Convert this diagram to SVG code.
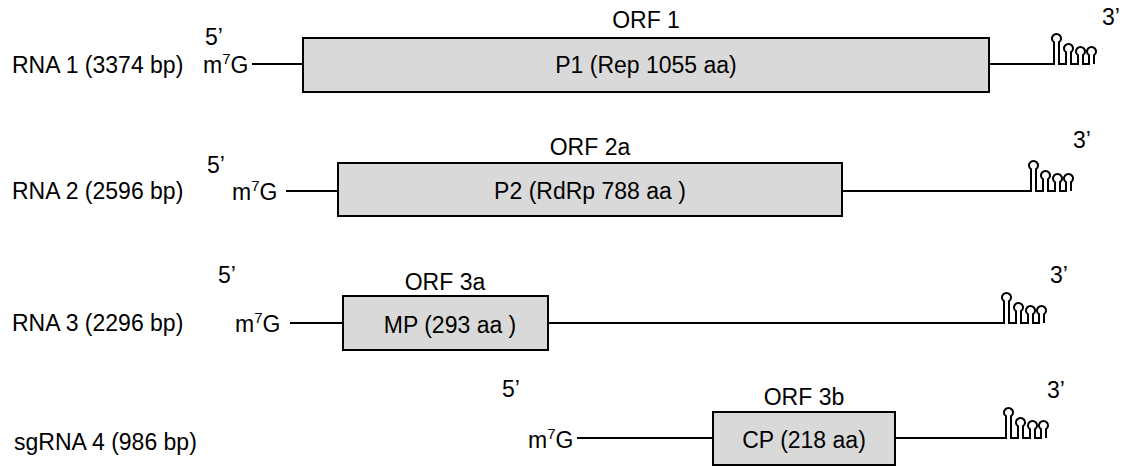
<svg xmlns="http://www.w3.org/2000/svg" width="1131" height="466" viewBox="0 0 1131 466">
<style>
text{font-family:"Liberation Sans",Arial,sans-serif;font-size:23px;fill:#000}
.mid{text-anchor:middle}
.sup{font-size:15px}
.box{fill:#d9d9d9;stroke:#000;stroke-width:2}
.ln{fill:none;stroke:#000;stroke-width:2}
</style>
<defs>
<path id="sl" class="ln" d="M0,0 V-21.8 A4.5,4.5 0 1 1 5,-21.8 V0 H12 V-11.8 A4.5,4.5 0 1 1 17,-11.8 V0 H24 V-8.8 A4.5,4.5 0 1 1 29,-8.8 V0 H35 V-8.8 A4.5,4.5 0 1 1 40,-8.8 V0"/>
</defs>
<g id="connectors">
<line class="ln" x1="252" y1="64" x2="303" y2="64"/>
<line class="ln" x1="989" y1="64" x2="1055" y2="64"/>
<line class="ln" x1="286" y1="191" x2="338" y2="191"/>
<line class="ln" x1="842" y1="191" x2="1032" y2="191"/>
<line class="ln" x1="290" y1="323" x2="343" y2="323"/>
<line class="ln" x1="548" y1="323" x2="1005" y2="323"/>
<line class="ln" x1="577" y1="438" x2="713" y2="438"/>
<line class="ln" x1="895" y1="438" x2="1007" y2="438"/>
</g>
<g id="rna1">
<text x="12" y="73">RNA 1 (3374 bp)</text>
<text x="205" y="45">5’</text>
<text x="203" y="73">m<tspan class="sup" dy="-9">7</tspan><tspan dy="9">G</tspan></text>
<rect class="box" x="303" y="38" width="686" height="54"/>
<text class="mid" x="646" y="28">ORF 1</text>
<text class="mid" x="646" y="73">P1 (Rep 1055 aa)</text>
<use href="#sl" x="1054" y="64"/>
<text x="1102" y="25">3’</text>
</g>
<g id="rna2">
<text x="12" y="199">RNA 2 (2596 bp)</text>
<text x="207" y="173">5’</text>
<text x="232" y="200">m<tspan class="sup" dy="-9">7</tspan><tspan dy="9">G</tspan></text>
<rect class="box" x="338" y="163" width="504" height="53"/>
<text class="mid" x="590" y="155">ORF 2a</text>
<text class="mid" x="590" y="199">P2 (RdRp 788 aa )</text>
<use href="#sl" x="1031" y="191"/>
<text x="1073" y="148">3’</text>
</g>
<g id="rna3">
<text x="12" y="331">RNA 3 (2296 bp)</text>
<text x="218" y="283">5’</text>
<text x="235" y="332">m<tspan class="sup" dy="-9">7</tspan><tspan dy="9">G</tspan></text>
<rect class="box" x="343" y="296" width="205" height="54"/>
<text class="mid" x="445" y="290">ORF 3a</text>
<text class="mid" x="450" y="333">MP (293 aa )</text>
<use href="#sl" x="1004" y="323"/>
<text x="1050" y="283">3’</text>
</g>
<g id="sgrna4">
<text x="14" y="450">sgRNA 4 (986 bp)</text>
<text x="502" y="397">5’</text>
<text x="528" y="448">m<tspan class="sup" dy="-9">7</tspan><tspan dy="9">G</tspan></text>
<rect class="box" x="713" y="412" width="182" height="53"/>
<text class="mid" x="804" y="405">ORF 3b</text>
<text class="mid" x="804" y="448">CP (218 aa)</text>
<use href="#sl" x="1006" y="438"/>
<text x="1047" y="398">3’</text>
</g>
</svg>
